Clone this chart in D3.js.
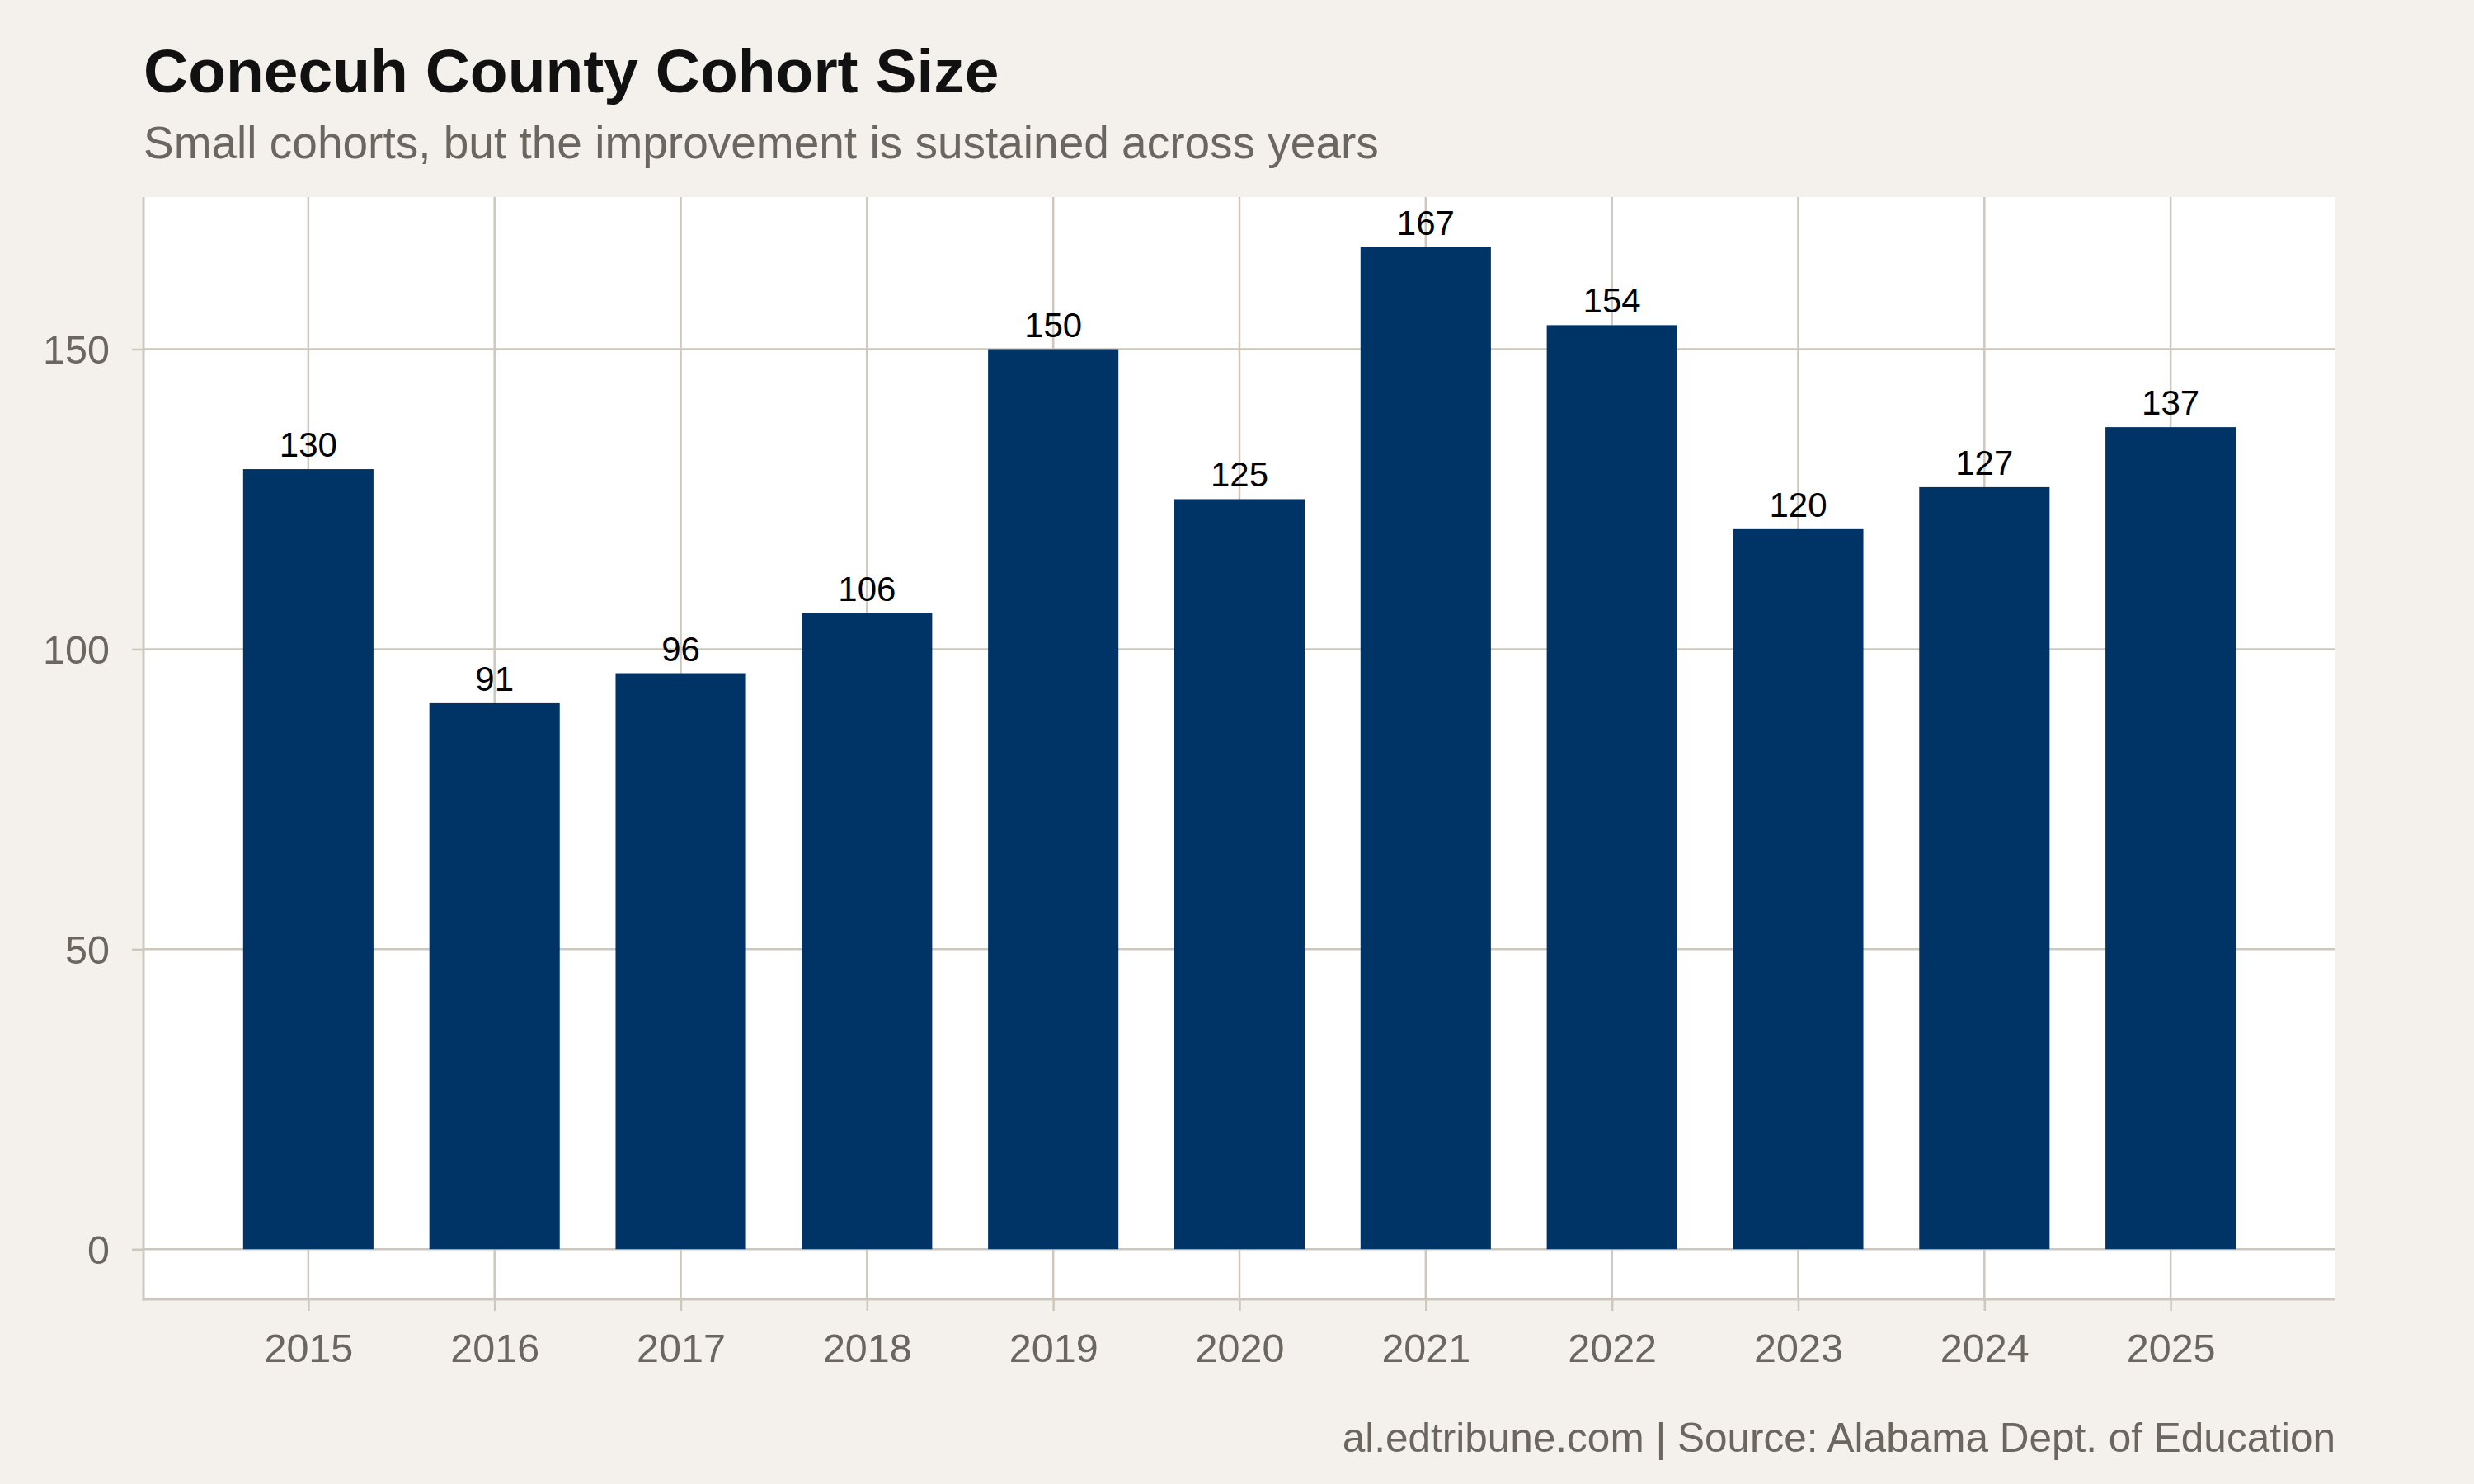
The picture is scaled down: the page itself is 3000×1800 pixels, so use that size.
<!DOCTYPE html>
<html>
<head>
<meta charset="utf-8">
<script src="https://cdn.jsdelivr.net/npm/d3@7"></script>
<style>
  body { margin: 0; background: #f4f1ec; }
  svg text { font-family: "Liberation Sans", Arial, sans-serif; }
</style>
</head>
<body>
<div id="chart"></div>
<script>
const years = [2015, 2016, 2017, 2018, 2019, 2020, 2021, 2022, 2023, 2024, 2025];
const cohortSize = [130, 91, 96, 106, 150, 125, 167, 154, 120, 127, 137];
const yTicks = [0, 50, 100, 150];

const config = {
  width: 3000,
  height: 1800,
  panel: { left: 174, right: 2832, top: 239, bottom: 1576 },
  bg: '#f4f1ec',
  grid: '#cdc7bd',
  barColor: '#003366',
  mutedText: '#6b6660'
};

const data = years.map((y, i) => ({ year: y, value: cohortSize[i] }));

const svg = d3.select('#chart')
  .append('svg')
  .attr('width', config.width)
  .attr('height', config.height);

svg.append('rect')
  .attr('width', config.width)
  .attr('height', config.height)
  .attr('fill', config.bg);

// continuous x with ggplot-like 5% expansion around bar extents
const barW = 0.7;
const xMin = d3.min(years) - barW / 2, xMax = d3.max(years) + barW / 2;
const xPad = (xMax - xMin) * 0.05;
const x = d3.scaleLinear()
  .domain([xMin - xPad, xMax + xPad])
  .range([config.panel.left, config.panel.right]);

const yMax = d3.max(cohortSize);
const y = d3.scaleLinear()
  .domain([-yMax * 0.05, yMax * 1.05])
  .range([config.panel.bottom, config.panel.top]);

// panel
svg.append('rect')
  .attr('x', config.panel.left)
  .attr('y', config.panel.top)
  .attr('width', config.panel.right - config.panel.left)
  .attr('height', config.panel.bottom - config.panel.top)
  .attr('fill', '#ffffff');

// grid lines
svg.selectAll('.hgrid')
  .data(yTicks)
  .enter()
  .append('line')
  .attr('x1', config.panel.left)
  .attr('x2', config.panel.right)
  .attr('y1', d => y(d))
  .attr('y2', d => y(d))
  .attr('stroke', config.grid)
  .attr('stroke-width', 2.5);

svg.selectAll('.vgrid')
  .data(years)
  .enter()
  .append('line')
  .attr('x1', d => x(d))
  .attr('x2', d => x(d))
  .attr('y1', config.panel.top)
  .attr('y2', config.panel.bottom)
  .attr('stroke', config.grid)
  .attr('stroke-width', 2.5);

// bars
svg.selectAll('.bar')
  .data(data)
  .enter()
  .append('rect')
  .attr('x', d => x(d.year - barW / 2))
  .attr('y', d => y(d.value))
  .attr('width', d => x(d.year + barW / 2) - x(d.year - barW / 2))
  .attr('height', d => y(0) - y(d.value))
  .attr('fill', config.barColor);

// value labels
svg.selectAll('.val')
  .data(data)
  .enter()
  .append('text')
  .attr('x', d => x(d.year))
  .attr('y', d => y(d.value) - 15)
  .attr('text-anchor', 'middle')
  .style('font-size', '42px')
  .style('fill', '#000')
  .text(d => d.value);

// axes
const yAxis = d3.axisLeft(y)
  .tickValues(yTicks)
  .tickSize(14)
  .tickPadding(27);

const xAxis = d3.axisBottom(x)
  .tickValues(years)
  .tickFormat(d3.format('d'))
  .tickSize(14)
  .tickPadding(28);

const gy = svg.append('g')
  .attr('transform', `translate(${config.panel.left},0)`)
  .call(yAxis);

const gx = svg.append('g')
  .attr('transform', `translate(0,${config.panel.bottom})`)
  .call(xAxis);

[gx, gy].forEach(g => {
  g.select('.domain').remove();
  g.selectAll('.tick line').attr('stroke', config.grid).attr('stroke-width', 2.5);
  g.selectAll('.tick text')
    .style('font-size', '48.5px')
    .style('fill', config.mutedText);
});
gy.selectAll('.tick text').attr('dy', '0.35em');

// axis lines
svg.append('line')
  .attr('x1', config.panel.left).attr('x2', config.panel.left)
  .attr('y1', config.panel.top).attr('y2', config.panel.bottom + 1.5)
  .attr('stroke', config.grid).attr('stroke-width', 3);
svg.append('line')
  .attr('x1', config.panel.left - 1.5).attr('x2', config.panel.right)
  .attr('y1', config.panel.bottom).attr('y2', config.panel.bottom)
  .attr('stroke', config.grid).attr('stroke-width', 3);

// titles
svg.append('text')
  .attr('x', config.panel.left)
  .attr('y', 112)
  .style('font-size', '75px')
  .style('font-weight', '700')
  .style('fill', '#111')
  .text('Conecuh County Cohort Size');

svg.append('text')
  .attr('x', config.panel.left)
  .attr('y', 192)
  .style('font-size', '55px')
  .style('fill', config.mutedText)
  .text('Small cohorts, but the improvement is sustained across years');

svg.append('text')
  .attr('x', config.panel.right)
  .attr('y', 1761)
  .attr('text-anchor', 'end')
  .style('font-size', '49.5px')
  .style('fill', config.mutedText)
  .text('al.edtribune.com | Source: Alabama Dept. of Education');
</script>
</body>
</html>
